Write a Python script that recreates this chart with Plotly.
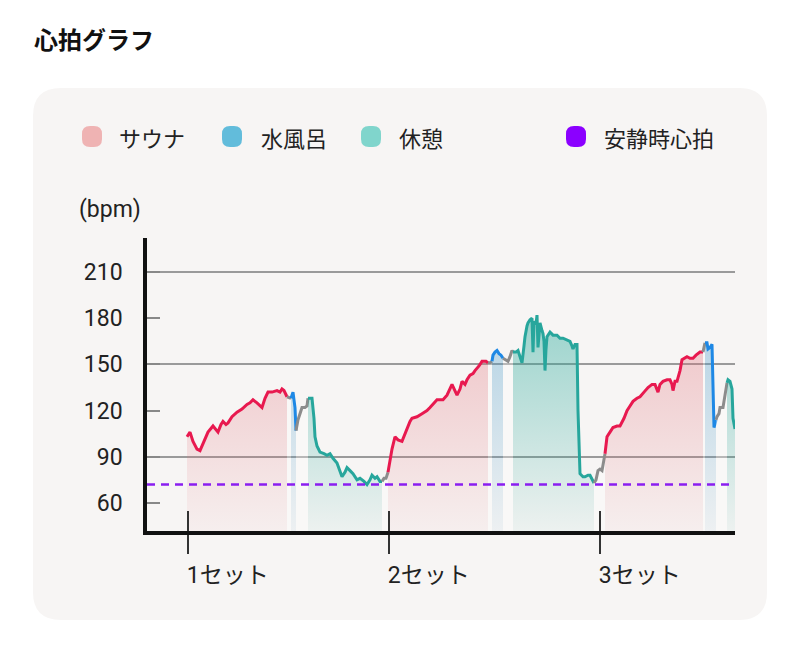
import plotly.graph_objects as go

# ---------------- data ----------------
# heart-rate samples (one sample every 15 s); phase: S=サウナ, W=水風呂, R=休憩, M=移動
sample_no = [
    40, 43, 46, 50, 53, 57, 61, 66, 69, 71, 74, 76, 79, 81, 85, 90, 95, 100, 103, 106, 110, 115, 118, 121, 125, 130, 133, 135, 137,
    140, 143,
    144, 146, 147, 148,
    149, 151, 153, 155, 158, 160,
    161, 165, 167, 168, 170, 173, 177, 180, 183, 186, 190, 193, 195, 198, 200, 203, 206, 210, 213, 217, 220, 223, 225, 228, 230, 233,
    235, 237, 239,
    241, 245, 248, 251, 255, 259, 263, 265, 270, 275, 280, 283, 287, 290, 296, 300, 305, 308, 310, 313, 315, 318, 320, 323, 326, 328, 332, 335, 339,
    341, 343,
    345, 346, 348, 350, 352, 354,
    356, 358, 361, 363, 365,
    366, 369, 371, 374, 375, 377, 378, 380, 381, 383, 385, 386, 387, 389, 390, 391, 393, 395, 396, 397, 398, 399, 400, 403, 406, 410, 413, 416, 420, 423, 425, 426, 428, 430, 431, 432, 433, 436, 438, 441,
    443, 447, 449, 451, 453,
    455, 458, 460, 463, 466, 470, 473, 477, 480, 483, 486, 490, 493, 497, 501, 505, 508, 511, 513, 516, 520, 523, 525, 526, 528, 530, 533, 535, 540, 543, 546, 549, 551,
    553,
    556, 558, 560, 561, 563, 565, 566,
    567, 569, 570, 572, 573, 576,
    578, 580, 581, 583, 585, 586, 588,
]
heart_rate = [
    103, 106, 100, 95, 94, 100, 106, 110, 108, 106, 111, 113, 111, 112, 116, 119, 121, 124, 125, 127, 125, 122, 128, 132, 132, 133, 132, 134, 133,
    129, 128,
    128, 132, 127, 122,
    107, 114, 118, 122, 122, 123,
    128, 128, 115, 103, 97, 93, 92, 91, 92, 89, 86, 80, 77, 80, 83, 81, 79, 75, 76, 74, 72, 75, 78, 76, 77, 74,
    74, 76, 76,
    80, 95, 103, 101, 100, 107, 113, 115, 116, 118, 120, 122, 125, 127, 127, 130, 137, 132, 130, 134, 139, 137, 140, 143, 144, 146, 149, 152, 152,
    151, 151,
    152, 156, 158, 159, 157, 156,
    154, 153, 152, 155, 159,
    158, 158, 159, 154, 151, 162, 168, 175, 177, 179, 180, 158, 178, 176, 182, 161, 177, 172, 170, 165, 146, 160, 168, 171, 169, 169, 167, 167, 166, 165, 162, 160, 163, 163, 120, 88, 79, 77, 77, 78,
    78, 73, 75, 81, 82,
    81, 92, 103, 106, 109, 110, 110, 115, 120, 123, 126, 128, 129, 132, 135, 137, 137, 132, 137, 139, 140, 140, 137, 133, 139, 139, 146, 153, 155, 154, 154, 156, 157,
    158,
    158, 164, 164, 160, 161, 163, 122,
    109, 114, 116, 118, 122, 122,
    131, 138, 140, 139, 134, 115, 108,
]
phase = (
    ["S"] * 29 + ["M"] * 2 + ["W"] * 4 + ["M"] * 6 + ["R"] * 26 + ["M"] * 3
    + ["S"] * 29 + ["M"] * 2 + ["W"] * 6 + ["M"] * 5 + ["R"] * 41 + ["M"] * 5
    + ["S"] * 33 + ["M"] * 1 + ["W"] * 7 + ["M"] * 6 + ["R"] * 7
)

resting_hr = 72
y_tick_vals = [60, 90, 120, 150, 180, 210]
y_grid_vals = [90, 150, 210]
set_tick_vals = [41, 242, 453]
set_tick_text = ["1セット", "2セット", "3セット"]
legend_names = ["サウナ", "水風呂", "休憩", "安静時心拍"]
legend_colors = ["#efb3b3", "#62bcdb", "#80d5cc", "#8b00ff"]

# ---------------- styles ----------------
W, H = 800, 656
L, R, T, B = 147, 735, 238, 531
Y_RANGE = [41.8, 232.1]
X_RANGE = [0, 588]
CARD = "#f7f5f4"
FONT = "Roboto, 'Noto Sans CJK JP', sans-serif"
JFONT = "'Noto Sans CJK JP', sans-serif"

line_color = {"S": "#e8194f", "W": "#1e88e5", "R": "#27a69c", "M": "#8c8c8c"}
fill_scale = {
    "S": [[0, "rgba(225,110,120,0.05)"], [1, "rgba(225,110,120,0.38)"]],
    "W": [[0, "rgba(80,160,205,0.06)"], [1, "rgba(80,160,205,0.42)"]],
    "R": [[0, "rgba(40,170,155,0.05)"], [1, "rgba(40,170,155,0.46)"]],
}


def X(p):
    return (p - L) / (R - L)


def Y(p):
    return (B - p) / (B - T)


def rrect(x0, y0, x1, y1, r):
    return (
        f"M {X(x0 + r)},{Y(y0)} L {X(x1 - r)},{Y(y0)} Q {X(x1)},{Y(y0)} {X(x1)},{Y(y0 + r)} "
        f"L {X(x1)},{Y(y1 - r)} Q {X(x1)},{Y(y1)} {X(x1 - r)},{Y(y1)} "
        f"L {X(x0 + r)},{Y(y1)} Q {X(x0)},{Y(y1)} {X(x0)},{Y(y1 - r)} "
        f"L {X(x0)},{Y(y0 + r)} Q {X(x0)},{Y(y0)} {X(x0 + r)},{Y(y0)} Z"
    )


fig = go.Figure()

# split into contiguous phase runs
n = len(sample_no)
runs = []
s = 0
for i in range(1, n + 1):
    if i == n or phase[i] != phase[s]:
        runs.append((s, i))
        s = i

for s, e in runs:
    p = phase[s]
    end = min(e + 1, n)
    xs = sample_no[s:end]
    ys = heart_rate[s:end]
    kw = dict(x=xs, y=ys, mode="lines", line=dict(color=line_color[p], width=3),
              fill="tozeroy", showlegend=False, hoverinfo="skip")
    if p == "M":
        kw["fillcolor"] = "rgba(255,255,255,0.3)"
    else:
        kw["fillgradient"] = dict(type="vertical", colorscale=fill_scale[p], start=Y_RANGE[0], stop=185)
    fig.add_trace(go.Scatter(**kw))

# resting heart-rate line (overlay subplot, above fills)
fig.add_trace(go.Scatter(x=X_RANGE, y=[resting_hr, resting_hr], mode="lines",
                         line=dict(color="#8a1ef0", width=2.6, dash="8px,6px"),
                         xaxis="x2", yaxis="y2", showlegend=False, hoverinfo="skip"))

shapes = [dict(type="path", xref="paper", yref="paper", path=rrect(33, 88, 767, 620, 28),
               fillcolor=CARD, line=dict(width=0), layer="below")]
annotations = [
    dict(text="<b>心拍グラフ</b>", x=X(32), y=Y(38), xref="paper", yref="paper", xanchor="left",
         yanchor="middle", showarrow=False, font=dict(family=JFONT, size=24, color="#111")),
    dict(text="(bpm)", x=X(77), y=Y(210), xref="paper", yref="paper", xanchor="left",
         yanchor="middle", showarrow=False, font=dict(family=FONT, size=23, color="#222")),
]
leg_marker_x = [92, 232, 371, 576]
leg_text_x = [117, 259, 397, 602]
for name, col, mx, tx in zip(legend_names, legend_colors, leg_marker_x, leg_text_x):
    shapes.append(dict(type="path", xref="paper", yref="paper",
                       path=rrect(mx - 10, 126, mx + 10, 147, 8), fillcolor=col, line=dict(width=0)))
    annotations.append(dict(text=name, x=X(tx), y=Y(137), xref="paper", yref="paper",
                            xanchor="left", yanchor="middle", showarrow=False,
                            font=dict(family=JFONT, size=22, color="#222")))

fig.update_layout(
    width=W, height=H,
    margin=dict(l=L, r=W - R, t=T, b=H - B, pad=0),
    paper_bgcolor="white", plot_bgcolor="rgba(0,0,0,0)",
    shapes=shapes, annotations=annotations,
    font=dict(family=FONT, color="#222"),
    xaxis=dict(range=X_RANGE, tickvals=set_tick_vals, ticktext=set_tick_text,
               ticks="outside", ticklen=19, tickwidth=1.5, tickcolor="#333",
               showline=True, linecolor="#111", linewidth=4, showgrid=False, zeroline=False,
               ticklabelposition="outside right", ticklabelstandoff=20, ticklabelshift=-4,
               tickfont=dict(family=FONT, size=23, color="#222")),
    xaxis2=dict(range=X_RANGE, overlaying="x", anchor="y2", side="bottom", tickvals=set_tick_vals,
                ticks="inside", ticklen=20, tickwidth=1.5, tickcolor="#333",
                showticklabels=False, showline=False, showgrid=False, zeroline=False),
    yaxis=dict(range=Y_RANGE, tickvals=y_tick_vals, ticks="inside", ticklen=13, tickwidth=1.5,
               tickcolor="#888", showline=True, linecolor="#111", linewidth=3.5,
               showgrid=False, zeroline=False, ticklabelstandoff=16,
               tickfont=dict(family=FONT, size=23, color="#222")),
    yaxis2=dict(range=Y_RANGE, overlaying="y", anchor="x2", tickvals=y_grid_vals, showgrid=True,
                gridcolor="#9a9a9a", gridwidth=1.5, showticklabels=False, ticks="",
                zeroline=False, showline=False),
)

fig.write_html("out.html")
